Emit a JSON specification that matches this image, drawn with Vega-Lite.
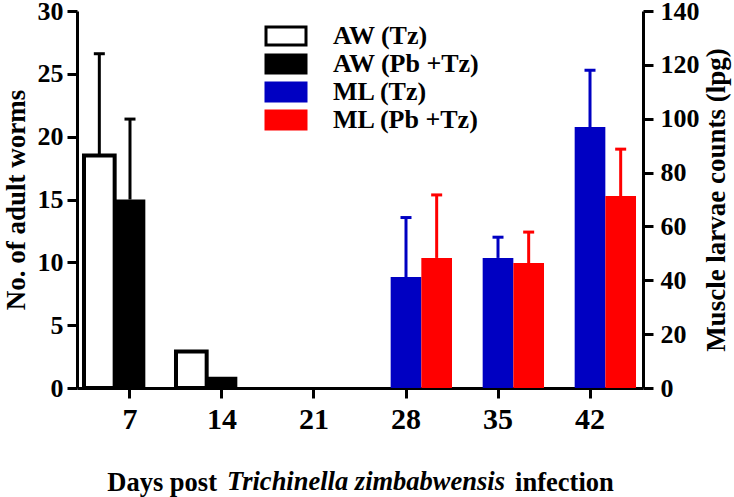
{
  "$schema": "https://vega.github.io/schema/vega-lite/v6.json",
  "width": 566,
  "height": 377,
  "autosize": {"type": "none"},
  "padding": {"left": 77, "top": 11, "right": 91, "bottom": 109},
  "background": "white",
  "title": {
    "text": "Trichinella zimbabwensis",
    "orient": "bottom",
    "frame": "group",
    "anchor": "middle",
    "offset": -6,
    "baseline": "alphabetic",
    "dx": 6,
    "font": "Liberation Serif",
    "fontSize": 26.5,
    "fontWeight": "bold",
    "fontStyle": "italic",
    "color": "black"
  },
  "config": {
    "view": {"stroke": null},
    "font": "Liberation Serif",
    "axis": {
      "labelFont": "Liberation Serif",
      "labelFontWeight": "bold",
      "labelColor": "black",
      "titleFont": "Liberation Serif",
      "titleFontWeight": "bold",
      "titleColor": "black",
      "domainColor": "black",
      "domainWidth": 3,
      "tickColor": "black",
      "tickWidth": 3,
      "tickSize": 10,
      "grid": false
    },
    "legend": {
      "labelFont": "Liberation Serif",
      "labelFontWeight": "bold",
      "labelColor": "black",
      "rowPadding": -4
    }
  },
  "layer": [
    {
      "data": {
        "values": [
          {"day": 7, "group": "AW (Tz)", "value": 18.5, "upper": 26.6},
          {"day": 7, "group": "AW (Pb +Tz)", "value": 15.0, "upper": 21.4},
          {"day": 14, "group": "AW (Tz)", "value": 2.9},
          {"day": 14, "group": "AW (Pb +Tz)", "value": 0.9}
        ]
      },
      "encoding": {
        "x": {
          "field": "day",
          "type": "ordinal",
          "scale": {"type": "band", "domain": [7, 14, 21, 28, 35, 42], "paddingInner": 0, "paddingOuter": 0.076},
          "axis": {
            "labelAngle": 0,
            "labelFontSize": 30,
            "labelPadding": 6,
            "title": "Days post\u00a0\u00a0\u00a0\u00a0\u00a0\u00a0\u00a0\u00a0\u00a0\u00a0\u00a0\u00a0\u00a0\u00a0\u00a0\u00a0\u00a0\u00a0\u00a0\u00a0\u00a0\u00a0\u00a0\u00a0\u00a0\u00a0\u00a0\u00a0\u00a0\u00a0\u00a0\u00a0\u00a0\u00a0\u00a0\u00a0\u00a0\u00a0\u00a0\u00a0\u00a0\u00a0\u00a0\u00a0\u00a0infection",
            "titleFontSize": 26.5,
            "titleBaseline": "alphabetic",
            "titleY": 102
          }
        },
        "xOffset": {
          "field": "group",
          "scale": {"domain": ["AW (Tz)", "AW (Pb +Tz)", "pad"], "paddingInner": 0, "paddingOuter": 0}
        },
        "y": {
          "field": "value",
          "type": "quantitative",
          "scale": {"domain": [0, 30], "nice": false},
          "axis": {
            "orient": "left",
            "values": [0, 5, 10, 15, 20, 25, 30],
            "labelFontSize": 26,
            "labelPadding": 4,
            "title": "No. of adult worms",
            "titleFontSize": 27,
            "titlePadding": 7
          }
        }
      },
      "layer": [
        {
          "mark": {"type": "bar"},
          "encoding": {
            "fill": {
              "field": "group",
              "type": "nominal",
              "scale": {
                "domain": ["AW (Tz)", "AW (Pb +Tz)", "ML (Tz)", "ML (Pb +Tz)"],
                "range": ["#ffffff", "#000000", "#0000c2", "#ff0000"]
              },
              "legend": {
                "title": null,
                "orient": "none",
                "legendX": 196,
                "legendY": 12,
                "padding": 0,
                "columns": 1,
                "labelFontSize": 26,
                "labelOffset": 34,
                "labelLimit": 400,
                "rowPadding": -4,
                "symbolType": "M-2,-0.9H2V0.9H-2Z",
                "symbolSize": 400,
                "symbolStrokeWidth": 3,
                "symbolOpacity": 1
              }
            },
            "stroke": {
              "field": "group",
              "type": "nominal",
              "scale": {
                "domain": ["AW (Tz)", "AW (Pb +Tz)", "ML (Tz)", "ML (Pb +Tz)"],
                "range": ["#000000", "#000000", "#0000c2", "#ff0000"]
              }
            },
            "strokeWidth": {
              "condition": {"test": "datum.group === 'AW (Tz)'", "value": 4},
              "value": 0
            }
          }
        },
        {
          "transform": [{"filter": "isValid(datum.upper)"}],
          "mark": {"type": "rule", "strokeWidth": 3},
          "encoding": {
            "y2": {"field": "upper"},
            "stroke": {"field": "group", "type": "nominal"}
          }
        },
        {
          "transform": [{"filter": "isValid(datum.upper)"}],
          "mark": {"type": "tick", "orient": "horizontal", "size": 9, "thickness": 1, "filled": false, "strokeWidth": 2, "opacity": 1},
          "encoding": {
            "y": {"field": "upper", "type": "quantitative"},
            "stroke": {"field": "group", "type": "nominal"}
          }
        }
      ]
    },
    {
      "data": {
        "values": [
          {"day": 28, "group": "ML (Tz)", "value": 41.2, "upper": 63.3},
          {"day": 28, "group": "ML (Pb +Tz)", "value": 48.3, "upper": 71.7},
          {"day": 35, "group": "ML (Tz)", "value": 48.3, "upper": 56.0},
          {"day": 35, "group": "ML (Pb +Tz)", "value": 46.4, "upper": 57.9},
          {"day": 42, "group": "ML (Tz)", "value": 96.9, "upper": 118.0},
          {"day": 42, "group": "ML (Pb +Tz)", "value": 71.3, "upper": 88.7}
        ]
      },
      "encoding": {
        "x": {"field": "day", "type": "ordinal"},
        "xOffset": {
          "field": "group",
          "scale": {"domain": ["pad", "ML (Tz)", "ML (Pb +Tz)"], "paddingInner": 0, "paddingOuter": 0}
        },
        "y": {
          "field": "value",
          "type": "quantitative",
          "scale": {"domain": [0, 140], "nice": false},
          "axis": {
            "orient": "right",
            "values": [0, 20, 40, 60, 80, 100, 120, 140],
            "labelFontSize": 26,
            "labelPadding": 7,
            "title": "Muscle larvae counts (lpg)",
            "titleFontSize": 27,
            "titleAngle": 270,
            "titleBaseline": "top",
            "titlePadding": 4
          }
        }
      },
      "layer": [
        {
          "mark": {"type": "bar"},
          "encoding": {
            "fill": {"field": "group", "type": "nominal"},
            "stroke": {"field": "group", "type": "nominal"},
            "strokeWidth": {"value": 0}
          }
        },
        {
          "mark": {"type": "rule", "strokeWidth": 3},
          "encoding": {
            "y2": {"field": "upper"},
            "stroke": {"field": "group", "type": "nominal"}
          }
        },
        {
          "mark": {"type": "tick", "orient": "horizontal", "size": 9, "thickness": 1, "filled": false, "strokeWidth": 2, "opacity": 1},
          "encoding": {
            "y": {"field": "upper", "type": "quantitative"},
            "stroke": {"field": "group", "type": "nominal"}
          }
        }
      ]
    }
  ],
  "resolve": {"scale": {"y": "independent", "xOffset": "independent"}}
}
